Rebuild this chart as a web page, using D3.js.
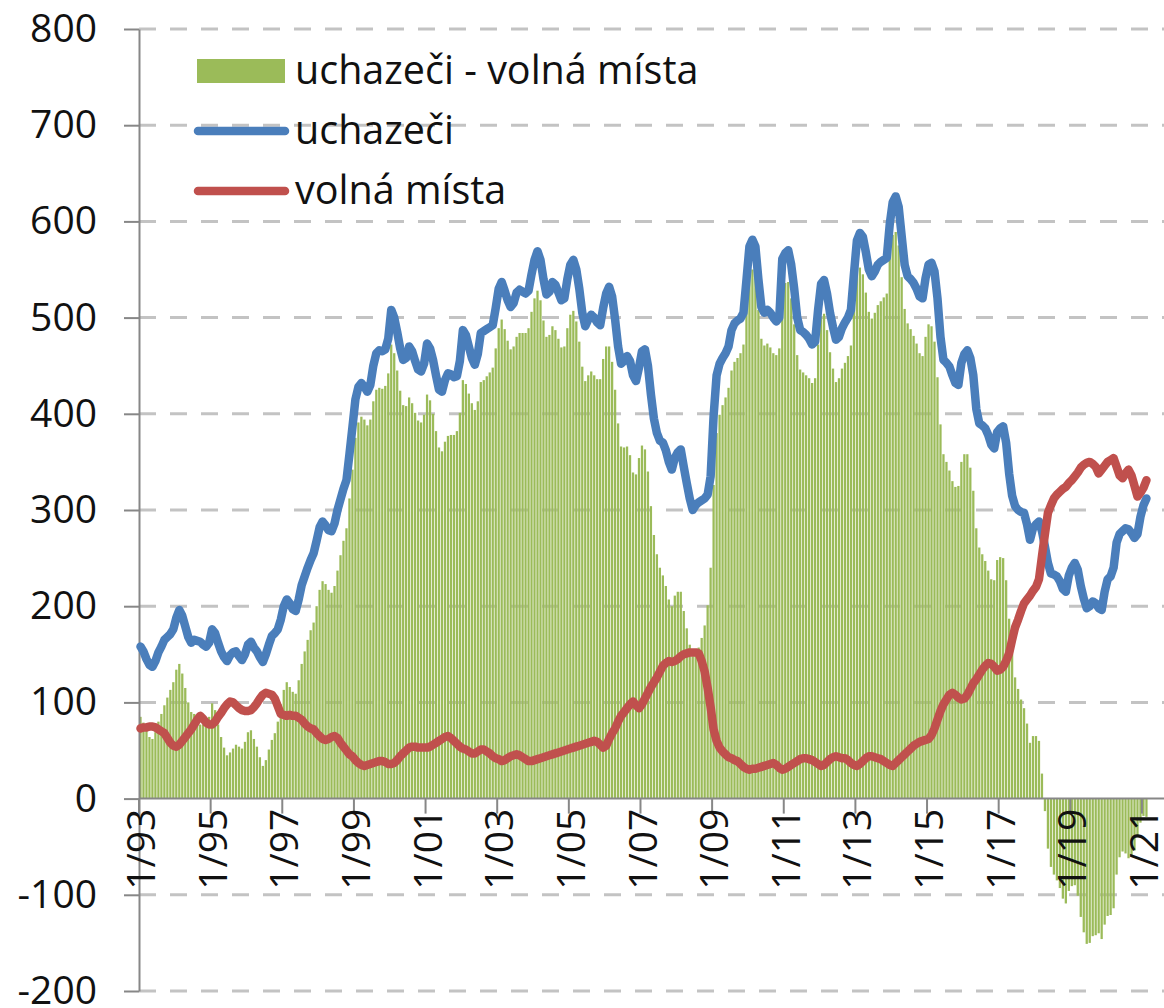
<!DOCTYPE html>
<html>
<head>
<meta charset="utf-8">
<script src="https://cdn.jsdelivr.net/npm/d3@7"></script>
<style>
  html, body { margin: 0; padding: 0; background: #fff; }
  svg { display: block; font-family: "Open Sans", sans-serif; }
</style>
</head>
<body>
<svg width="1164" height="1008"></svg>
<script>
// monthly series, thousands of persons, 1/1993 .. 2/2021
var startYear = 1993;

var uchazeci = [
  158, 153, 145, 139, 137, 143, 152, 158, 165, 168, 171, 176, // 1993
  188, 196, 190, 179, 168, 162, 165, 164, 163, 160, 158, 162, // 1994
  176, 172, 162, 153, 147, 143, 149, 152, 153, 148, 144, 150, // 1995
  160, 163, 157, 153, 147, 142, 150, 160, 169, 172, 176, 186, // 1996
  200, 207, 203, 197, 195, 207, 222, 231, 240, 248, 255, 268, // 1997
  282, 288, 284, 279, 278, 286, 300, 311, 322, 331, 358, 386, // 1998
  415, 428, 432, 428, 423, 430, 450, 463, 466, 465, 467, 478, // 1999
  508, 500, 485, 468, 456, 458, 470, 465, 455, 446, 444, 452, // 2000
  473, 468, 456, 440, 425, 423, 435, 442, 441, 438, 439, 455, // 2001
  487, 482, 470, 458, 451, 462, 484, 486, 488, 490, 492, 510, // 2002
  530, 537, 528, 518, 511, 515, 526, 529, 527, 525, 528, 545, // 2003
  560, 569, 560, 540, 524, 527, 537, 534, 526, 518, 520, 540, // 2004
  555, 560, 550, 530, 505, 491, 498, 503, 500, 495, 492, 510, // 2005
  525, 532, 522, 498, 470, 452, 455, 460, 455, 440, 434, 448, // 2006
  465, 467, 450, 420, 395, 380, 372, 370, 362, 350, 342, 354, // 2007
  360, 363, 345, 328, 312, 300, 305, 308, 310, 312, 316, 335, // 2008
  398, 440, 452, 458, 463, 470, 487, 494, 497, 499, 505, 539, // 2009
  574, 581, 574, 540, 511, 505, 508, 505, 500, 496, 500, 561, // 2010
  567, 570, 555, 530, 500, 487, 485, 482, 478, 472, 475, 508, // 2011
  535, 539, 525, 505, 490, 477, 480, 489, 495, 500, 508, 545, // 2012
  580, 588, 584, 568, 550, 543, 548, 555, 558, 560, 562, 597, // 2013
  620, 626, 615, 585, 555, 543, 540, 536, 530, 522, 520, 541, // 2014
  555, 557, 548, 520, 480, 456, 453, 449, 440, 432, 430, 453, // 2015
  462, 466, 458, 440, 405, 390, 388, 385, 378, 368, 364, 381, // 2016
  385, 387, 370, 338, 315, 304, 300, 298, 297, 285, 269, 281, // 2017
  285, 288, 278, 262, 245, 234, 233, 231, 226, 218, 215, 232, // 2018
  240, 245, 238, 221, 208, 198, 200, 205, 203, 198, 196, 215, // 2019
  228, 231, 240, 266, 275, 278, 281, 280, 276, 271, 275, 293, // 2020
  305, 312                                                    // 2021
];

var volnaMista = [
  73, 74, 74, 75, 75, 74, 72, 70, 68, 63, 58, 55,             // 1993
  54, 56, 60, 64, 68, 72, 77, 82, 86, 83, 79, 77,             // 1994
  77, 80, 85, 89, 94, 98, 101, 100, 97, 94, 92, 91,           // 1995
  91, 92, 95, 99, 104, 108, 110, 109, 108, 104, 96, 88,       // 1996
  87, 86, 87, 86, 86, 84, 82, 78, 75, 73, 72, 68,             // 1997
  65, 62, 61, 62, 64, 65, 63, 58, 54, 50, 46, 44,             // 1998
  40, 37, 35, 34, 35, 36, 37, 38, 39, 39, 38, 36,             // 1999
  36, 37, 40, 44, 47, 50, 53, 54, 54, 53, 53, 53,             // 2000
  53, 54, 56, 58, 60, 62, 64, 65, 63, 60, 57, 54,             // 2001
  52, 51, 49, 47, 47, 49, 51, 51, 49, 47, 44, 42,             // 2002
  41, 39, 40, 42, 44, 45, 46, 45, 43, 41, 39, 39,             // 2003
  40, 41, 42, 43, 44, 45, 46, 47, 48, 49, 50, 51,             // 2004
  52, 53, 54, 55, 56, 57, 58, 59, 60, 59, 56, 53,             // 2005
  55, 62, 68, 73, 80, 86, 90, 94, 98, 101, 97, 94,            // 2006
  98, 104, 110, 116, 121, 126, 132, 138, 141, 143, 142, 143,  // 2007
  145, 148, 150, 151, 152, 152, 152, 151, 143, 132, 115, 95,  // 2008
  72, 60, 53, 49, 46, 43, 42, 40, 39, 36, 33, 31,             // 2009
  30, 31, 31, 32, 33, 34, 35, 36, 37, 35, 32, 30,             // 2010
  31, 33, 35, 37, 39, 41, 42, 42, 41, 40, 38, 36,             // 2011
  34, 35, 38, 41, 43, 44, 43, 42, 42, 40, 37, 35,             // 2012
  34, 36, 39, 42, 44, 44, 43, 42, 41, 39, 37, 35,             // 2013
  34, 37, 40, 43, 46, 49, 52, 55, 57, 59, 60, 61,             // 2014
  62, 66, 73, 82, 91, 98, 103, 108, 110, 108, 105, 103,       // 2015
  104, 108, 114, 120, 124, 129, 134, 138, 141, 140, 137, 133, // 2016
  134, 137, 143, 151, 165, 178, 186, 195, 203, 207, 211, 216, // 2017
  220, 228, 252, 275, 297, 305, 312, 316, 319, 322, 324, 328, // 2018
  331, 335, 339, 344, 347, 349, 350, 348, 345, 338, 342, 346, // 2019
  350, 352, 354, 345, 336, 333, 338, 342, 336, 325, 314, 318, // 2020
  323, 331                                                    // 2021
];

var yTicks = [-200, -100, 0, 100, 200, 300, 400, 500, 600, 700, 800];
var xTickLabels = ["1/93", "1/95", "1/97", "1/99", "1/01", "1/03", "1/05", "1/07",
                   "1/09", "1/11", "1/13", "1/15", "1/17", "1/19", "1/21"];
var legendNames = ["uchazeči - volná místa", "uchazeči", "volná místa"];

var green = "#9bbb59", blue = "#4a7ebb", red = "#c0504d";

// categories: month labels m/yy
var months = uchazeci.map(function(d, i) {
  var yr = startYear + Math.floor(i / 12);
  return (i % 12 + 1) + "/" + String(yr).slice(2);
});
var data = months.map(function(m, i) {
  return { m: m, i: i, u: uchazeci[i], v: volnaMista[i], diff: uchazeci[i] - volnaMista[i] };
});

var svg = d3.select("svg");
var W = 1164;
var left = 139, step = 2.985;

var x = d3.scaleBand()
  .domain(months)
  .range([left, left + months.length * step]);

var y = d3.scaleLinear().domain([-200, 800]).range([991, 29]);

// gridlines
svg.append("g").selectAll("line")
  .data(yTicks.filter(function(t) { return t !== 0; }))
  .enter().append("line")
  .attr("x1", left).attr("x2", W)
  .attr("y1", function(d) { return y(d); })
  .attr("y2", function(d) { return y(d); })
  .attr("stroke", "#c3c3c3")
  .attr("stroke-width", 3)
  .attr("stroke-dasharray", "17,14");

// bars
var bw = x.bandwidth() * 0.76;
svg.append("g").selectAll("rect")
  .data(data)
  .enter().append("rect")
  .attr("x", function(d) { return x(d.m) + (x.bandwidth() - bw) / 2; })
  .attr("width", bw)
  .attr("y", function(d) { return y(Math.max(0, d.diff)); })
  .attr("height", function(d) { return Math.abs(y(d.diff) - y(0)); })
  .attr("fill", green);

// y axis
var yAxis = svg.append("g")
  .attr("transform", "translate(" + left + ",0)")
  .call(d3.axisLeft(y).tickValues(yTicks).tickSize(15).tickSizeOuter(0).tickPadding(27)
    .tickFormat(function(d) { return String(d); }));
yAxis.select(".domain").attr("stroke", "#878787").attr("stroke-width", 2);
yAxis.selectAll(".tick line").attr("stroke", "#878787").attr("stroke-width", 2);
yAxis.selectAll(".tick text")
  .attr("font-size", 39).attr("fill", "#111")
  .attr("font-family", "Open Sans, sans-serif");

// x axis (ticks at start of every second January)
var xAxis = svg.append("g")
  .attr("transform", "translate(0," + y(0) + ")")
  .call(d3.axisBottom(x).tickValues(xTickLabels).tickSize(15).tickSizeOuter(0));
xAxis.select(".domain").remove();
xAxis.append("line")
  .attr("x1", left).attr("x2", W)
  .attr("stroke", "#878787").attr("stroke-width", 2);
xAxis.selectAll(".tick")
  .attr("transform", function(d) { return "translate(" + x(d) + ",0)"; });
xAxis.selectAll(".tick line").attr("stroke", "#878787").attr("stroke-width", 2);
xAxis.selectAll(".tick text")
  .attr("font-size", 39).attr("fill", "#111")
  .attr("font-family", "Open Sans, sans-serif")
  .attr("text-anchor", "end")
  .attr("transform", "rotate(-90)")
  .attr("x", -10)
  .attr("y", 2)
  .attr("dy", "0.36em");

// lines
function lineFor(key) {
  return d3.line()
    .x(function(d) { return x(d.m) + x.bandwidth() / 2; })
    .y(function(d) { return y(d[key]); });
}
svg.append("path").datum(data)
  .attr("fill", "none").attr("stroke", blue).attr("stroke-width", 8.5)
  .attr("stroke-linejoin", "round").attr("stroke-linecap", "round")
  .attr("d", lineFor("u"));
svg.append("path").datum(data)
  .attr("fill", "none").attr("stroke", red).attr("stroke-width", 8.5)
  .attr("stroke-linejoin", "round").attr("stroke-linecap", "round")
  .attr("d", lineFor("v"));

// legend
var lg = svg.append("g");
var rowY = [71, 131, 191];
lg.append("rect").attr("x", 197).attr("y", rowY[0] - 12).attr("width", 88).attr("height", 24).attr("fill", green);
lg.append("line").attr("x1", 198).attr("x2", 285).attr("y1", rowY[1]).attr("y2", rowY[1])
  .attr("stroke", blue).attr("stroke-width", 8.5).attr("stroke-linecap", "round");
lg.append("line").attr("x1", 198).attr("x2", 285).attr("y1", rowY[2]).attr("y2", rowY[2])
  .attr("stroke", red).attr("stroke-width", 8.5).attr("stroke-linecap", "round");
lg.selectAll("text").data(legendNames).enter().append("text")
  .attr("x", 295)
  .attr("y", function(d, i) { return rowY[i]; })
  .attr("dy", "0.32em")
  .attr("font-size", 39.5).attr("fill", "#111")
  .text(function(d) { return d; });
</script>
</body>
</html>
